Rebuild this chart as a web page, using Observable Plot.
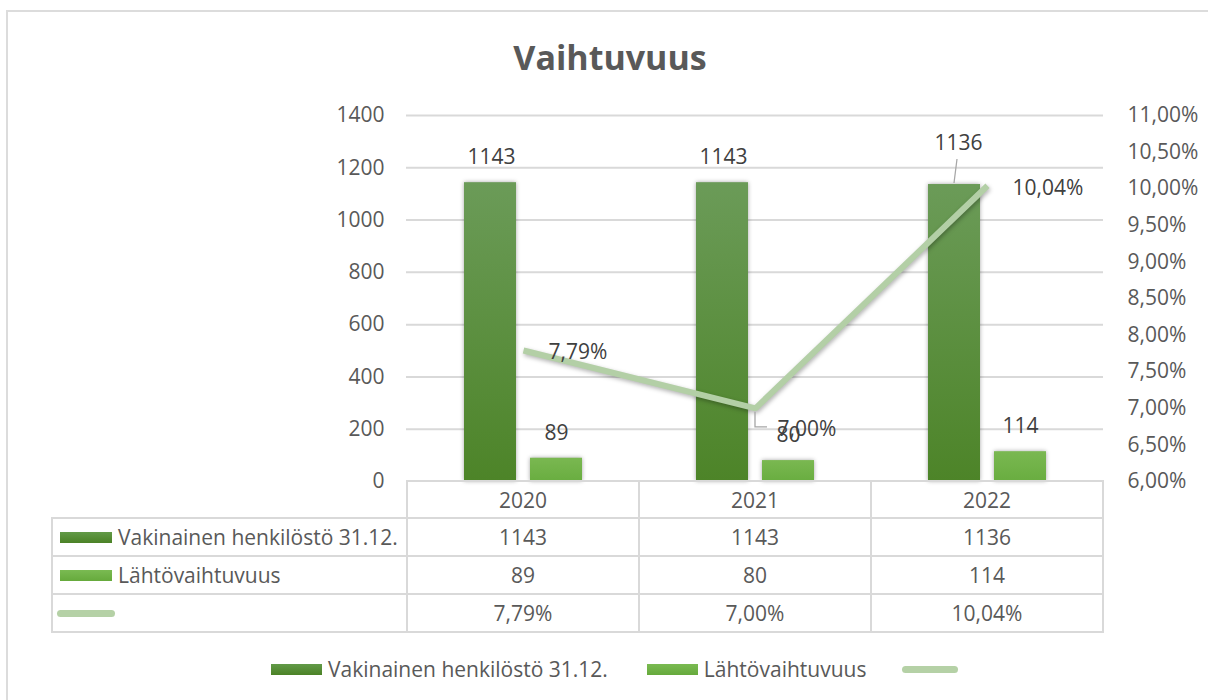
<!DOCTYPE html>
<html>
<head>
<meta charset="utf-8">
<script src="https://cdn.jsdelivr.net/npm/d3@7"></script>
<script src="https://cdn.jsdelivr.net/npm/@observablehq/plot@0.6"></script>
<style>
  html, body { margin: 0; padding: 0; background: #fff; }
  #root { position: relative; width: 1208px; height: 700px; overflow: hidden; background: #fff;
          font-family: "Open Sans", sans-serif; color: #595959; }
  #chart { position: absolute; left: 0; top: 0; }
  #frame { position: absolute; left: 6px; top: 10px; width: 1220px; height: 720px;
           border: 2px solid #dcdcdc; box-sizing: border-box; pointer-events: none; }
  #title { position: absolute; left: 0; top: 34px; width: 1220px; text-align: center;
           font-size: 34px; line-height: 46px; font-weight: 700; color: #595959; }
  .line { position: absolute; background: #d9d9d9; }
  .cell { position: absolute; display: flex; align-items: center; justify-content: center;
          font-size: 21px; color: #595959; white-space: nowrap; }
  .rowlabel { justify-content: flex-start; }
  .sw { display: inline-block; width: 52px; height: 11px; margin-right: 6px; flex: none; }
  .sw.dark { background: linear-gradient(#629a48, #4b8226); }
  .sw.light { background: linear-gradient(#7aba52, #66aa3c); }
  .sw.lineSw { width: 58px; height: 7px; border-radius: 4px; background: #b5d1a6; }
  #legend { position: absolute; left: 271px; top: 651px; height: 36px; display: flex; align-items: center;
            font-size: 21px; color: #595959; white-space: nowrap; }
  #legend .item { display: flex; align-items: center; }
</style>
</head>
<body>
<div id="root">
  <div id="chart"></div>
  <div id="title"></div>
  <div id="table"></div>
  <div id="legend"></div>
  <div id="frame"></div>
</div>
<script>
// ---- data ----
const title = "Vaihtuvuus";
const years = ["2020", "2021", "2022"];
const staffName = "Vakinainen henkilöstö 31.12.";
const leaversName = "Lähtövaihtuvuus";
const rateName = "";
const staff = [1143, 1143, 1136];
const leavers = [89, 80, 114];
const rates = [7.79, 7.00, 10.04];
const leftTicks = [0, 200, 400, 600, 800, 1000, 1200, 1400];
const rightTicks = [6.00, 6.50, 7.00, 7.50, 8.00, 8.50, 9.00, 9.50, 10.00, 10.50, 11.00];
// labels that Excel moved off their default place (with a leader line)
const raisedStaffLabel = "2022";
const loweredRateLabel = "2021";

// ---- helpers ----
const Y_MAX = leftTicks[leftTicks.length - 1];
const P_MIN = rightTicks[0], P_MAX = rightTicks[rightTicks.length - 1];
const toY = p => (p - P_MIN) / (P_MAX - P_MIN) * Y_MAX;
const fromY = y => P_MIN + y / Y_MAX * (P_MAX - P_MIN);
const fmtPct = v => v.toFixed(2).replace(".", ",") + "%";

const data = years.map((year, i) => ({year, staff: staff[i], leavers: leavers[i], rate: rates[i]}));

const DARK_DX = -32, LIGHT_DX = 33;

function defsMark() {
  const defs = d3.create("svg:defs");
  const grad = (id, c0, c1) => {
    const g = defs.append("linearGradient").attr("id", id)
      .attr("x1", 0).attr("y1", 0).attr("x2", 0).attr("y2", 1);
    g.append("stop").attr("offset", 0).attr("stop-color", c0);
    g.append("stop").attr("offset", 1).attr("stop-color", c1);
  };
  grad("gDark", "#6b9b58", "#4d8428");
  grad("gLight", "#7ab851", "#69ad40");
  return defs.node();
}

function leaderMark(index, scales) {
  const x = scales.x, y = scales.y;
  const bw = x(years[1]) - x(years[0]);
  const g = d3.create("svg:g").attr("fill", "none").attr("stroke", "#a6a6a6").attr("stroke-width", 1.3);
  const a = data.find(d => d.year === raisedStaffLabel);
  const ax = x(a.year) + bw / 2 + DARK_DX, ay = y(a.staff);
  g.append("path").attr("d", `M${ax + 2},${ay - 25}L${ax - 1},${ay - 1}`);
  const b = data.find(d => d.year === loweredRateLabel);
  const bx = x(b.year) + bw / 2, by = y(toY(b.rate));
  g.append("path").attr("d", `M${bx},${by + 4}V${by + 19}H${bx + 12}`);
  return g.node();
}

const labelFont = {fontSize: 21, fill: "#404040"};

const chart = Plot.plot({
  width: 1208,
  height: 500,
  marginTop: 115,
  marginBottom: 19,
  marginLeft: 406,
  marginRight: 105,
  style: {background: "transparent", fontFamily: "'Open Sans', sans-serif", fontSize: "21px", color: "#595959", overflow: "visible"},
  x: {type: "band", domain: years, padding: 0, axis: null},
  y: {domain: [0, Y_MAX], axis: null},
  marks: [
    defsMark,
    Plot.gridY(leftTicks.slice(1), {stroke: "#d9d9d9", strokeOpacity: 1, strokeWidth: 2}),
    Plot.barY(data, {x: "year", y: "staff", fill: "url(#gDark)", insetLeft: 57, insetRight: 123,
      imageFilter: "drop-shadow(0px 0px 2px rgba(0,0,0,0.35))"}),
    Plot.barY(data, {x: "year", y: "leavers", fill: "url(#gLight)", insetLeft: 123, insetRight: 57,
      imageFilter: "drop-shadow(0px 0px 2px rgba(0,0,0,0.35))"}),
    Plot.line(data, {x: "year", y: d => toY(d.rate), stroke: "#b3cfa6", strokeWidth: 6,
      strokeLinejoin: "miter", strokeLinecap: "butt",
      imageFilter: "drop-shadow(1px 2px 2px rgba(0,0,0,0.3))"}),
    Plot.text(data.filter(d => d.year !== raisedStaffLabel), {x: "year", y: "staff", text: d => String(d.staff),
      dx: DARK_DX, dy: -25, ...labelFont}),
    Plot.text(data.filter(d => d.year === raisedStaffLabel), {x: "year", y: "staff", text: d => String(d.staff),
      dx: DARK_DX + 3, dy: -41, ...labelFont}),
    Plot.text(data, {x: "year", y: "leavers", text: d => String(d.leavers), dx: LIGHT_DX, dy: -25, ...labelFont}),
    Plot.text(data.filter(d => d.year !== loweredRateLabel), {x: "year", y: d => toY(d.rate), text: d => fmtPct(d.rate),
      textAnchor: "start", dx: 25, dy: 2, ...labelFont}),
    Plot.text(data.filter(d => d.year === loweredRateLabel), {x: "year", y: d => toY(d.rate), text: d => fmtPct(d.rate),
      textAnchor: "start", dx: 22, dy: 21, ...labelFont}),
    leaderMark,
    Plot.axisY(leftTicks, {anchor: "left", tickSize: 0, tickPadding: 22, fontSize: 21, color: "#595959",
      label: null, tickFormat: d => String(d)}),
    Plot.axisY(rightTicks.map(toY), {anchor: "right", tickSize: 0, tickPadding: 24, fontSize: 21, color: "#595959",
      label: null, tickFormat: d => fmtPct(fromY(d))})
  ]
});
document.getElementById("chart").appendChild(chart);
document.getElementById("title").textContent = title;

// ---- data table aligned with the plot's x and y scales ----
const sx = chart.scale("x"), sy = chart.scale("y");
const colEdges = years.map(y => sx.apply(y)).concat([sx.apply(years[years.length - 1]) + sx.bandwidth]);
const tableLeft = 52;
const y0 = sy.apply(0);
const rowEdges = [y0, y0 + 37, y0 + 75, y0 + 113, y0 + 151];
const tableEl = document.getElementById("table");
const addLine = (left, top, width, height) => {
  const d = document.createElement("div");
  d.className = "line";
  d.style.left = left + "px"; d.style.top = top + "px";
  d.style.width = width + "px"; d.style.height = height + "px";
  tableEl.appendChild(d);
};
const right = colEdges[colEdges.length - 1];
// horizontal lines
addLine(colEdges[0] - 1, rowEdges[0] - 1, right - colEdges[0] + 2, 2);
for (let r = 1; r < rowEdges.length; r++) addLine(tableLeft - 1, rowEdges[r] - 1, right - tableLeft + 2, 2);
// vertical lines
addLine(tableLeft - 1, rowEdges[1] - 1, 2, rowEdges[4] - rowEdges[1] + 2);
colEdges.forEach(x => addLine(x - 1, rowEdges[0] - 1, 2, rowEdges[4] - rowEdges[0] + 2));

const addCell = (left, top, width, height, html, cls) => {
  const d = document.createElement("div");
  d.className = "cell" + (cls ? " " + cls : "");
  d.style.left = left + "px"; d.style.top = top + "px";
  d.style.width = width + "px"; d.style.height = height + "px";
  d.innerHTML = html;
  tableEl.appendChild(d);
};
const rowsContent = [
  {label: staffName, sw: "dark", values: staff.map(String)},
  {label: leaversName, sw: "light", values: leavers.map(String)},
  {label: rateName, sw: "lineSw", values: rates.map(fmtPct)}
];
years.forEach((y, j) => addCell(colEdges[j], rowEdges[0], colEdges[j + 1] - colEdges[j], rowEdges[1] - rowEdges[0], y));
rowsContent.forEach((row, r) => {
  const top = rowEdges[r + 1], h = rowEdges[r + 2] - rowEdges[r + 1];
  const swStyle = row.sw === "lineSw" ? ' style="margin-left:-3px"' : "";
  addCell(tableLeft + 8, top, colEdges[0] - tableLeft - 8, h,
    `<span class="sw ${row.sw}"${swStyle}></span><span>${row.label}</span>`, "rowlabel");
  row.values.forEach((v, j) => addCell(colEdges[j], top, colEdges[j + 1] - colEdges[j], h, v));
});

// ---- legend ----
const legend = document.getElementById("legend");
const legendItems = [
  {name: staffName, sw: "dark", gap: 39},
  {name: leaversName, sw: "light", gap: 36},
  {name: rateName, sw: "lineSw", gap: 0}
];
legendItems.forEach(it => {
  const d = document.createElement("div");
  d.className = "item";
  d.style.marginRight = it.gap + "px";
  d.innerHTML = `<span class="sw ${it.sw}" style="${it.sw === 'lineSw' ? 'width:56px;height:7px;' : 'width:51px;height:11px;'}"></span>` +
    (it.name ? `<span>${it.name}</span>` : "");
  legend.appendChild(d);
});
</script>
</body>
</html>
